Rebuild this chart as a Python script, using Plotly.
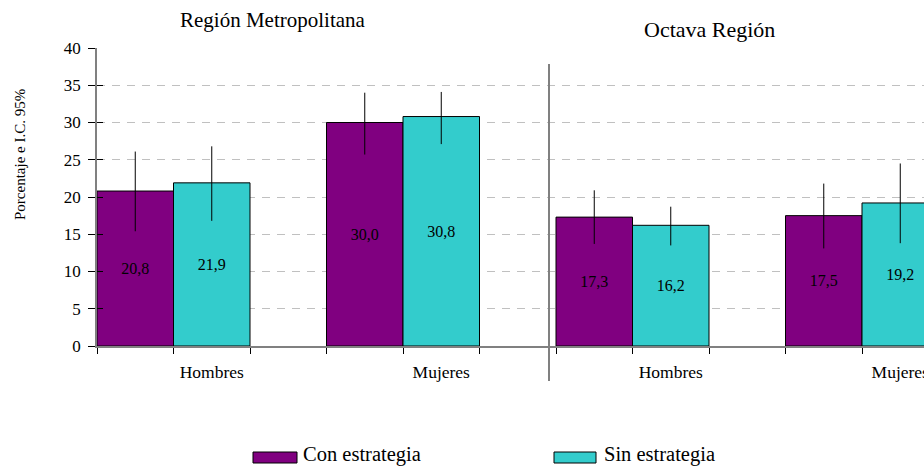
import plotly.graph_objects as go

# ---- data ----
regions = ["Región Metropolitana", "Octava Región"]
categories = ["Hombres", "Mujeres", "Hombres", "Mujeres"]
series_names = ["Con estrategia", "Sin estrategia"]
con_values = [20.8, 30.0, 17.3, 17.5]
con_low = [15.4, 25.7, 13.7, 13.1]
con_high = [26.1, 34.0, 20.9, 21.8]
sin_values = [21.9, 30.8, 16.2, 19.2]
sin_low = [16.8, 27.1, 13.5, 13.8]
sin_high = [26.8, 34.1, 18.7, 24.5]
y_ticks = [0, 5, 10, 15, 20, 25, 30, 35, 40]

colors = ["#800080", "#33CCCC"]
FONT = "Liberation Serif"

W, H = 924, 466
L, R, T, B = 97, 0, 48, 120
PW, PH = W - L - R, H - T - B
SLOT = 229.5  # px per category slot


def px(x):
    return (x - L) / PW


def py(y):
    return (H - B - y) / PH


def fmt(v):
    return f"{v:.1f}".replace(".", ",")


fig = go.Figure()
series = [(con_values, con_low, con_high), (sin_values, sin_low, sin_high)]
for s, (vals, lo, hi) in enumerate(series):
    xs = [i + (2 * s + 1) / 6 for i in range(len(categories))]
    fig.add_trace(go.Bar(
        x=xs, y=vals, width=1 / 3, name=series_names[s],
        marker=dict(color=colors[s], line=dict(color="black", width=1)),
        text=[fmt(v) for v in vals], textposition="inside",
        insidetextanchor="middle", textangle=0,
        textfont=dict(family=FONT, size=16, color="black"),
        error_y=dict(type="data", symmetric=False,
                     array=[h - v for h, v in zip(hi, vals)],
                     arrayminus=[v - l for v, l in zip(vals, lo)],
                     color="black", thickness=1, width=0),
        showlegend=False,
    ))

# dummy trace for the inner-tick overlay axis
fig.add_trace(go.Scatter(x=[None], y=[None], yaxis="y2", showlegend=False, hoverinfo="skip"))

n = len(categories)
edges = []
for i in range(n):
    edges += [i, i + 1 / 3, i + 2 / 3]

fig.update_layout(
    width=W, height=H,
    margin=dict(l=L, r=R, t=T, b=B, autoexpand=False),
    paper_bgcolor="white", plot_bgcolor="white",
    barmode="overlay",
    separators=",.",
    font=dict(family=FONT, color="black"),
    xaxis=dict(
        range=[0, PW / SLOT], tickmode="array",
        tickvals=[i + 0.5 for i in range(n)], ticktext=categories,
        ticks="", showgrid=False, zeroline=False,
        showline=True, linecolor="#808080", linewidth=1.5,
        tickfont=dict(family=FONT, size=17.5, color="black"),
        ticklabelstandoff=9, automargin=False,
        ticklabeloverflow="allow",
        minor=dict(tickvals=edges, ticks="outside", ticklen=6,
                   tickcolor="black", tickwidth=1, showgrid=False),
    ),
    yaxis=dict(
        range=[0, 40], tickmode="array", tickvals=y_ticks,
        ticks="outside", ticklen=7, tickcolor="black", tickwidth=1,
        showline=True, linecolor="#808080", linewidth=1.5,
        showgrid=True, gridcolor="#C0C0C0", griddash="8px,7px", gridwidth=1,
        zeroline=False,
        tickfont=dict(family=FONT, size=17, color="black"),
        ticklabelstandoff=4, automargin=False,
    ),
    yaxis2=dict(
        range=[0, 40], overlaying="y", side="left", tickmode="array",
        tickvals=y_ticks, ticks="inside", ticklen=6, tickcolor="black",
        showticklabels=False, showgrid=False, zeroline=False, showline=False,
    ),
)

# separator between regions
fig.add_shape(type="line", xref="paper", yref="paper",
              x0=px(549), x1=px(549), y0=py(381), y1=py(64),
              line=dict(color="#808080", width=2))

# region titles
fig.add_annotation(text=regions[0], xref="paper", yref="paper",
                   x=px(273), y=py(20), showarrow=False,
                   xanchor="center", yanchor="middle",
                   font=dict(family=FONT, size=21, color="black"))
fig.add_annotation(text=regions[1], xref="paper", yref="paper",
                   x=px(709), y=py(30), showarrow=False,
                   xanchor="center", yanchor="middle",
                   font=dict(family=FONT, size=22, color="black"))

# y axis title
fig.add_annotation(text="Porcentaje e I.C. 95%", xref="paper", yref="paper",
                   x=px(20), y=py(155), showarrow=False, textangle=-90,
                   xanchor="center", yanchor="middle",
                   font=dict(family=FONT, size=15, color="black"))

# legend (custom, wide swatches)
legend_items = [(253, 297, 302), (554, 596, 603)]
for s, (x0, x1, tx) in enumerate(legend_items):
    fig.add_shape(type="rect", xref="paper", yref="paper",
                  x0=px(x0), x1=px(x1), y0=py(463), y1=py(452),
                  fillcolor=colors[s], line=dict(color="black", width=1))
    fig.add_annotation(text=series_names[s], xref="paper", yref="paper",
                       x=px(tx), y=py(454), showarrow=False,
                       xanchor="left", yanchor="middle", borderpad=0,
                       font=dict(family=FONT, size=20.5, color="black"))

fig.write_html(
    "out.html",
    config={"displayModeBar": False},
    post_script="document.body.style.margin='0';document.body.style.overflow='hidden';",
)
